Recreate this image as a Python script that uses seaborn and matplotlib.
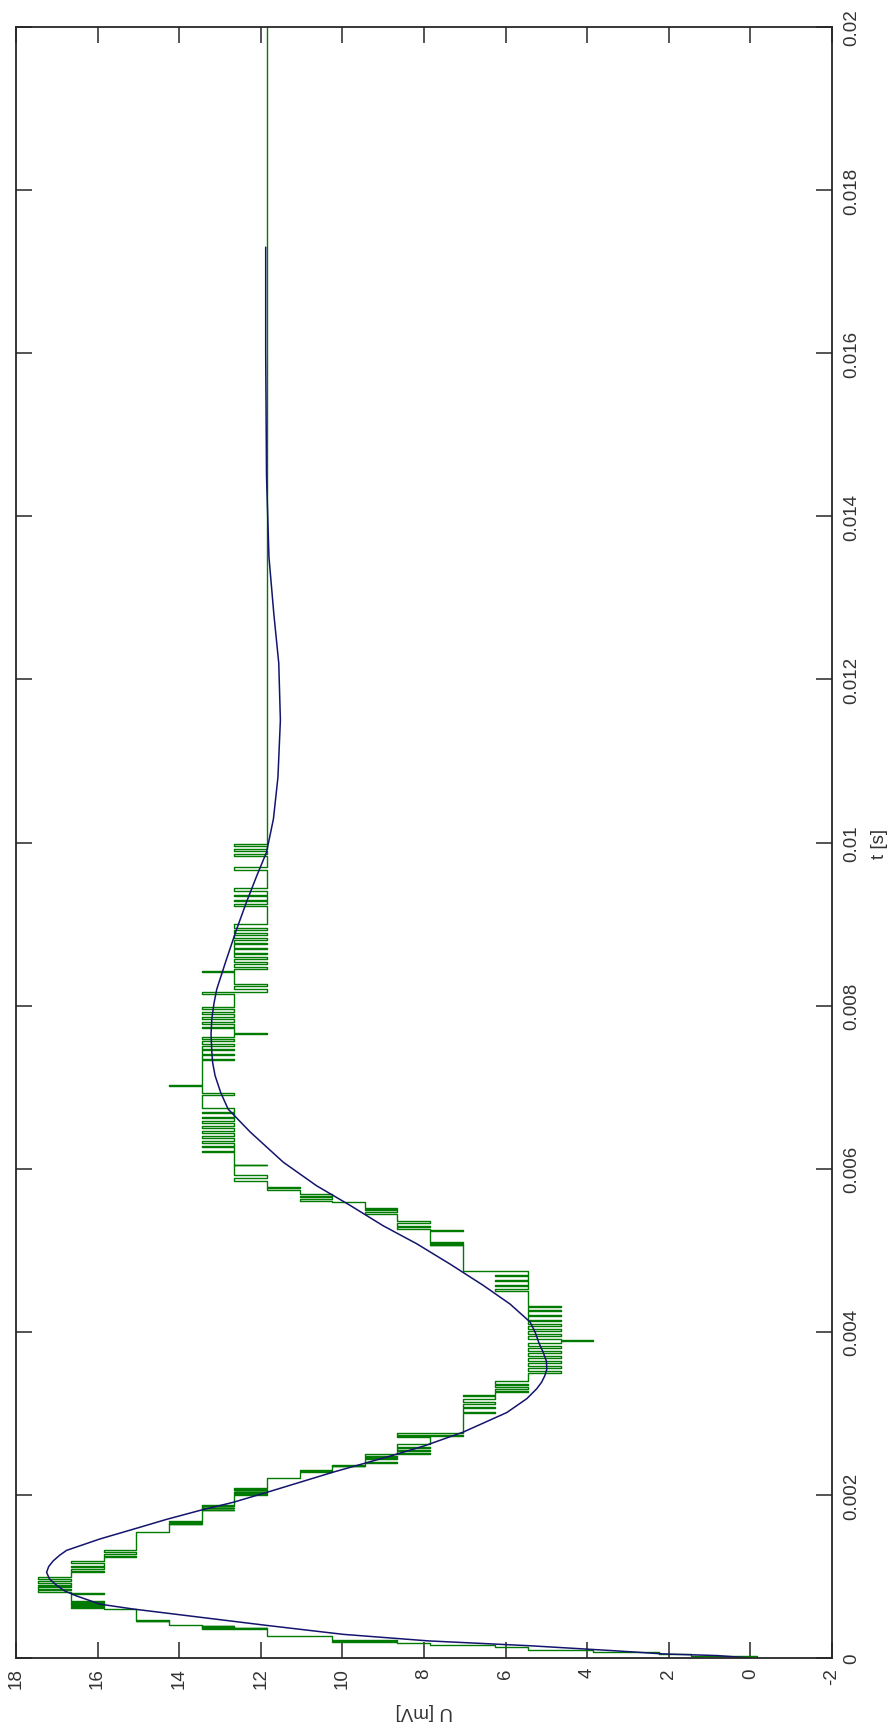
import matplotlib
matplotlib.use("Agg")
import matplotlib.pyplot as plt
import seaborn as sns
import pandas as pd

# model response (blue): time in ms, voltage in mV
fit_t = [0, 0.03, 0.05, 0.09, 0.15, 0.21, 0.29, 0.40, 0.50, 0.60, 0.66, 0.76, 0.82, 0.89,
         0.97, 1.05, 1.12, 1.19, 1.26, 1.32, 1.46, 1.58, 1.70, 1.81, 1.91, 2.03, 2.28, 2.48,
         2.60, 2.77, 3.01, 3.18, 3.30, 3.38, 3.46, 3.54, 3.64, 3.75, 3.86, 4.00, 4.12, 4.34,
         4.57, 4.83, 5.08, 5.30, 5.55, 5.79, 6.08, 6.45, 6.73, 6.93, 7.14, 7.30, 7.43, 7.65,
         7.84, 8.02, 8.20, 8.57, 8.94, 9.27, 9.59, 9.88, 10.29, 10.8, 11.5, 12.2, 12.8, 13.5,
         14.5, 16.0, 17.3]
fit_u = [0, 0.82, 2.13, 3.37, 5.4, 7.9, 9.98, 11.86, 13.49, 15.12, 15.94, 16.51, 16.8, 17.0,
         17.18, 17.25, 17.2, 17.09, 16.93, 16.76, 15.94, 15.12, 14.31, 13.49, 12.67, 11.86, 10.22, 8.8,
         8.0, 7.04, 5.97, 5.48, 5.24, 5.12, 5.04, 4.99, 5.0, 5.08, 5.18, 5.28, 5.40, 5.89,
         6.55, 7.36, 8.18, 9.0, 9.81, 10.63, 11.45, 12.26, 12.8, 12.98, 13.12, 13.18, 13.2, 13.22,
         13.2, 13.15, 13.08, 12.84, 12.59, 12.35, 12.1, 11.86, 11.69, 11.58, 11.52, 11.56, 11.68, 11.80,
         11.86, 11.88, 11.88]

# measured signal (green): time of each change in ms, new level in mV
meas_t = [0.00, 0.03, 0.05, 0.07, 0.10, 0.13, 0.16, 0.19, 0.20, 0.21, 0.22, 0.27, 0.275,
          0.36, 0.365, 0.37, 0.375, 0.38, 0.39, 0.395, 0.40, 0.45, 0.455, 0.46,
          0.60, 0.615, 0.625, 0.64, 0.645, 0.66, 0.672, 0.68, 0.692, 0.70, 0.79, 0.80,
          0.81, 0.835, 0.845, 0.87, 0.885, 0.90, 0.925, 0.94, 0.965, 0.99,
          1.05, 1.07, 1.095, 1.12, 1.13, 1.16, 1.19,
          1.24, 1.255, 1.28, 1.30, 1.32,
          1.55, 1.64, 1.645, 1.66, 1.672, 1.68,
          1.81, 1.82, 1.835, 1.845, 1.86, 1.865, 1.88,
          2.00, 2.005, 2.02, 2.03, 2.04, 2.055, 2.06, 2.07, 2.08,
          2.21, 2.28, 2.29, 2.30,
          2.35, 2.36, 2.37, 2.39, 2.40,
          2.44, 2.45, 2.46, 2.48, 2.50, 2.515, 2.54, 2.55, 2.58, 2.59, 2.62,
          2.71, 2.72, 2.74, 2.76,
          3.00, 3.02, 3.06, 3.08, 3.12, 3.14, 3.18, 3.21, 3.23,
          3.26, 3.27, 3.30, 3.32, 3.35, 3.36, 3.40,
          3.50, 3.52, 3.56, 3.58, 3.62, 3.64, 3.68, 3.70, 3.74, 3.76, 3.80, 3.82, 3.86,
          3.89, 3.895, 3.91, 3.95, 3.97, 4.01, 4.03, 4.07, 4.09, 4.13, 4.15, 4.19, 4.21,
          4.25, 4.27, 4.30, 4.32,
          4.50, 4.52, 4.56, 4.58, 4.62, 4.64, 4.68, 4.70, 4.74, 4.75,
          5.06, 5.07, 5.08, 5.09, 5.10, 5.24, 5.245,
          5.26, 5.28, 5.30, 5.33, 5.36,
          5.45, 5.47, 5.49, 5.50, 5.52,
          5.59, 5.61, 5.63, 5.65, 5.67, 5.69,
          5.74, 5.76, 5.78, 5.85, 5.88, 5.92, 6.04, 6.045,
          6.20, 6.22, 6.26, 6.28, 6.32, 6.34, 6.38, 6.40, 6.44, 6.46, 6.50, 6.52, 6.56,
          6.58, 6.62, 6.64, 6.68, 6.70, 6.75,
          6.90, 6.93, 7.02, 7.03,
          7.33, 7.35, 7.39, 7.41, 7.45, 7.47, 7.51, 7.53, 7.57, 7.59,
          7.62, 7.65, 7.66, 7.72, 7.74, 7.78, 7.80, 7.84, 7.86, 7.90, 7.92, 7.96, 7.98,
          8.14, 8.17, 8.20, 8.24, 8.26, 8.41, 8.42,
          8.45, 8.47, 8.51, 8.53, 8.57, 8.59, 8.63, 8.65, 8.69, 8.71, 8.75, 8.77, 8.81,
          8.83, 8.87, 8.89, 8.93, 8.95, 9.00,
          9.22, 9.24, 9.28, 9.30, 9.34, 9.36, 9.40, 9.44,
          9.66, 9.70,
          9.84, 9.86, 9.90, 9.92, 9.96, 9.98, 10.02, 20.0]
meas_u = [-0.15, 1.45, 2.25, 3.85, 5.45, 6.25, 7.85, 8.65, 10.25, 8.65, 10.25, 11.05, 11.85,
          13.45, 11.85, 13.45, 12.65, 13.45, 12.65, 13.45, 14.25, 15.05, 14.25, 15.05,
          15.85, 16.65, 15.85, 16.65, 15.85, 16.65, 15.85, 16.65, 15.85, 16.65, 15.85, 16.65,
          17.45, 16.65, 17.45, 16.65, 17.45, 16.65, 17.45, 16.65, 17.45, 16.65,
          15.85, 16.65, 15.85, 16.65, 15.85, 16.65, 15.85,
          15.05, 15.85, 15.05, 15.85, 15.05,
          14.25, 13.45, 14.25, 13.45, 14.25, 13.45,
          12.65, 13.45, 12.65, 13.45, 12.65, 13.45, 12.65,
          11.85, 12.65, 11.85, 12.65, 11.85, 12.65, 11.85, 12.65, 11.85,
          11.05, 10.25, 11.05, 10.25,
          9.45, 10.25, 9.45, 8.65, 9.45,
          8.65, 9.45, 8.65, 9.45, 7.85, 8.65, 7.85, 8.65, 7.85, 8.65, 7.85,
          8.65, 7.05, 8.65, 7.05,
          6.25, 7.05, 6.25, 7.05, 6.25, 7.05, 6.25, 7.05, 6.25,
          5.45, 6.25, 5.45, 6.25, 5.45, 6.25, 5.45,
          4.65, 5.45, 4.65, 5.45, 4.65, 5.45, 4.65, 5.45, 4.65, 5.45, 4.65, 5.45, 4.65,
          3.85, 4.65, 5.45, 4.65, 5.45, 4.65, 5.45, 4.65, 5.45, 4.65, 5.45, 4.65, 5.45,
          4.65, 5.45, 4.65, 5.45,
          6.25, 5.45, 6.25, 5.45, 6.25, 5.45, 6.25, 5.45, 6.25, 7.05,
          7.85, 7.05, 7.85, 7.05, 7.85, 7.05, 7.85,
          8.65, 7.85, 8.65, 7.85, 8.65,
          9.45, 8.65, 9.45, 8.65, 9.45,
          10.25, 11.05, 10.25, 11.05, 10.25, 11.05,
          11.85, 11.05, 11.85, 12.65, 11.85, 12.65, 11.85, 12.65,
          13.45, 12.65, 13.45, 12.65, 13.45, 12.65, 13.45, 12.65, 13.45, 12.65, 13.45, 12.65, 13.45,
          12.65, 13.45, 12.65, 13.45, 12.65, 13.45,
          12.65, 13.45, 14.25, 13.45,
          12.65, 13.45, 12.65, 13.45, 12.65, 13.45, 12.65, 13.45, 12.65, 13.45,
          12.65, 11.85, 12.65, 13.45, 12.65, 13.45, 12.65, 13.45, 12.65, 13.45, 12.65, 13.45, 12.65,
          13.45, 11.85, 12.65, 11.85, 12.65, 13.45, 12.65,
          11.85, 12.65, 11.85, 12.65, 11.85, 12.65, 11.85, 12.65, 11.85, 12.65, 11.85, 12.65, 11.85,
          12.65, 11.85, 12.65, 11.85, 12.65, 11.85,
          12.65, 11.85, 12.65, 11.85, 12.65, 11.85, 12.65, 11.85,
          12.65, 11.85,
          12.65, 11.85, 12.65, 11.85, 12.65, 11.85, 11.85, 11.85]

u_ticks = [-2, 0, 2, 4, 6, 8, 10, 12, 14, 16, 18]
t_ticks = [0, 0.002, 0.004, 0.006, 0.008, 0.01, 0.012, 0.014, 0.016, 0.018, 0.02]
t_labels = ["0", "0.002", "0.004", "0.006", "0.008", "0.01", "0.012", "0.014",
            "0.016", "0.018", "0.02"]

sns.set_style("white")
plt.rcParams["font.family"] = ["Liberation Sans", "DejaVu Sans"]

fit = pd.DataFrame({"U": fit_u, "t": [v / 1000 for v in fit_t]})
meas = pd.DataFrame({"U": meas_u, "t": [v / 1000 for v in meas_t]})

fig = plt.figure(figsize=(8.95, 17.31), dpi=100)
ax = fig.add_axes([16 / 895, 72 / 1731, 816 / 895, 1631 / 1731])

# the whole chart is drawn turned a quarter turn: U runs right-to-left, t upward
sns.lineplot(data=meas, x="U", y="t", sort=False, estimator=None, color="#007a00",
             lw=1.0, drawstyle="steps-pre", ax=ax)
sns.lineplot(data=fit, x="U", y="t", sort=False, estimator=None, color="#14146e",
             lw=1.1, ax=ax)

ax.set_xlim(18, -2)
ax.set_ylim(0, 0.02)

for s in ax.spines.values():
    s.set_color("#262626")
    s.set_linewidth(1.3)

ax.tick_params(axis="both", direction="in", length=11.5, width=1.1, color="#262626",
               labelsize=13.5, labelcolor="#333333")
ax.tick_params(axis="x", top=True, bottom=True, labeltop=False, labelbottom=True, pad=6.5)
ax.tick_params(axis="y", left=True, right=True, labelleft=False, labelright=True, pad=8)

ax.set_xticks(u_ticks, labels=[str(v) for v in u_ticks], rotation=90, ha="center", va="top")
ax.set_yticks(t_ticks, labels=t_labels, rotation=90, ha="left", va="center")

ax.set_xlabel("U [mV]", rotation=180, fontsize=13.5, color="#333333", labelpad=10)
ax.yaxis.set_label_position("right")
ax.set_ylabel("t [s]", rotation=90, fontsize=13.5, color="#333333", labelpad=8)

fig.savefig("out.png", dpi=100)
